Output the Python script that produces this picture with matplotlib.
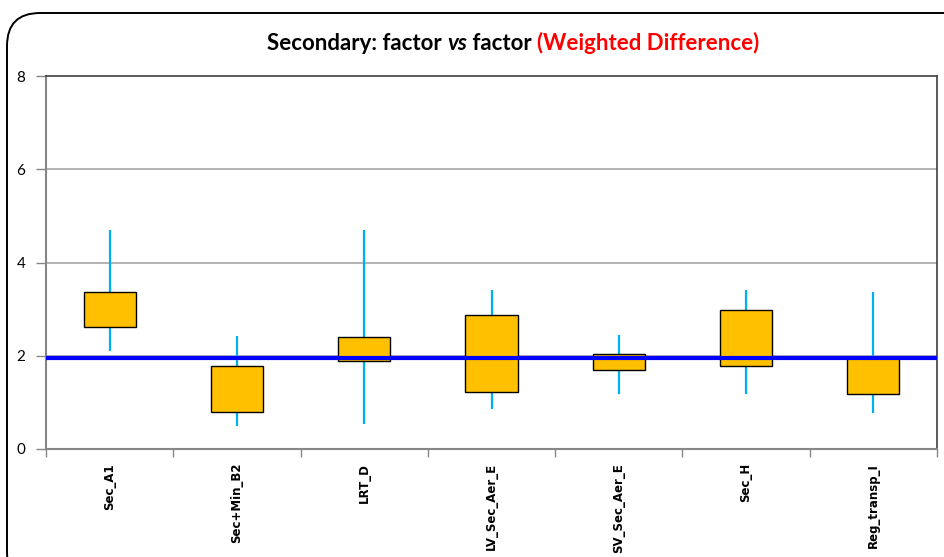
import matplotlib
matplotlib.use("Agg")
import matplotlib.pyplot as plt
from matplotlib.patches import FancyBboxPatch
import numpy as np

categories = ["Sec_A1", "Sec+Min_B2", "LRT_D", "LV_Sec_Aer_E", "SV_Sec_Aer_E", "Sec_H", "Reg_transp_I"]
whisker_low = [2.11, 0.50, 0.53, 0.86, 1.19, 1.19, 0.78]
box_low = [2.62, 0.80, 1.89, 1.23, 1.70, 1.79, 1.17]
box_high = [3.36, 1.77, 2.41, 2.88, 2.04, 2.99, 1.95]
whisker_high = [4.70, 2.42, 4.70, 3.41, 2.45, 3.41, 3.37]
reference_value = 1.96
y_ticks = [0, 2, 4, 6, 8]

plt.rcParams['font.family'] = ['Lato', 'DejaVu Sans']

fig = plt.figure(figsize=(9.44, 5.57), dpi=100)
# outer rounded border
border = FancyBboxPatch((7/944, -0.05), 1.2, (557-13)/557 + 0.05,
                        boxstyle="round,pad=0,rounding_size=0.035",
                        transform=fig.transFigure, fill=False,
                        edgecolor="black", linewidth=1.4, mutation_aspect=944/557)
fig.patches.append(border)

ax = fig.add_axes([46/944, (557-449)/557, (937-46)/944, (449-76)/557])
x = np.arange(len(categories))
ax.set_xlim(-0.5, len(categories) - 0.5)
ax.set_ylim(0, 8)

for yv in [2, 4, 6]:
    ax.axhline(yv, color="#a6a6a6", linewidth=1.2, zorder=1)

ax.vlines(x, whisker_low, whisker_high, color="#00B0F0", linewidth=1.6, zorder=2)
heights = [h - l for h, l in zip(box_high, box_low)]
ax.bar(x, heights, bottom=box_low, width=0.41, color="#FFC000",
       edgecolor="black", linewidth=1.0, zorder=3)
ax.axhline(reference_value, color="#0000FF", linewidth=3.0, zorder=4)

ax.set_yticks(y_ticks)
ax.set_yticklabels([str(v) for v in y_ticks], fontsize=11)
ax.tick_params(axis="y", length=7, width=1, color="#868686", pad=8)

ax.set_xticks(np.arange(-0.5, len(categories), 1.0))
ax.set_xticklabels([])
ax.tick_params(axis="x", length=6, width=1, color="#868686", direction="out")
for xi, c in zip(x, categories):
    ax.text(xi, -0.3, c, rotation=90, ha="center", va="top", fontsize=8.5,
            fontweight="bold", family="DejaVu Sans")

for s in ["left", "bottom"]:
    ax.spines[s].set_color("#868686")
    ax.spines[s].set_linewidth(1.5)
for s in ["top", "right"]:
    ax.spines[s].set_color("#404040")
    ax.spines[s].set_linewidth(1.2)

# title in pieces
pieces = [("Secondary: factor ", "black", "normal"),
          ("vs", "black", "italic"),
          (" factor ", "black", "normal"),
          ("(Weighted Difference)", "#FF0000", "normal")]
fig.canvas.draw()
renderer = fig.canvas.get_renderer()
texts = []
widths = []
for s, col, st in pieces:
    t = fig.text(0, 0, s, color=col, fontstyle=st, fontweight="bold", fontsize=16,
                 va="center", ha="left")
    bb = t.get_window_extent(renderer=renderer)
    texts.append(t)
    widths.append(bb.width)
total = sum(widths)
cx = 513
xpos = cx - total / 2
for t, w in zip(texts, widths):
    t.set_position((xpos / 944, 1 - 43 / 557))
    xpos += w

fig.savefig("out.png", dpi=100)
